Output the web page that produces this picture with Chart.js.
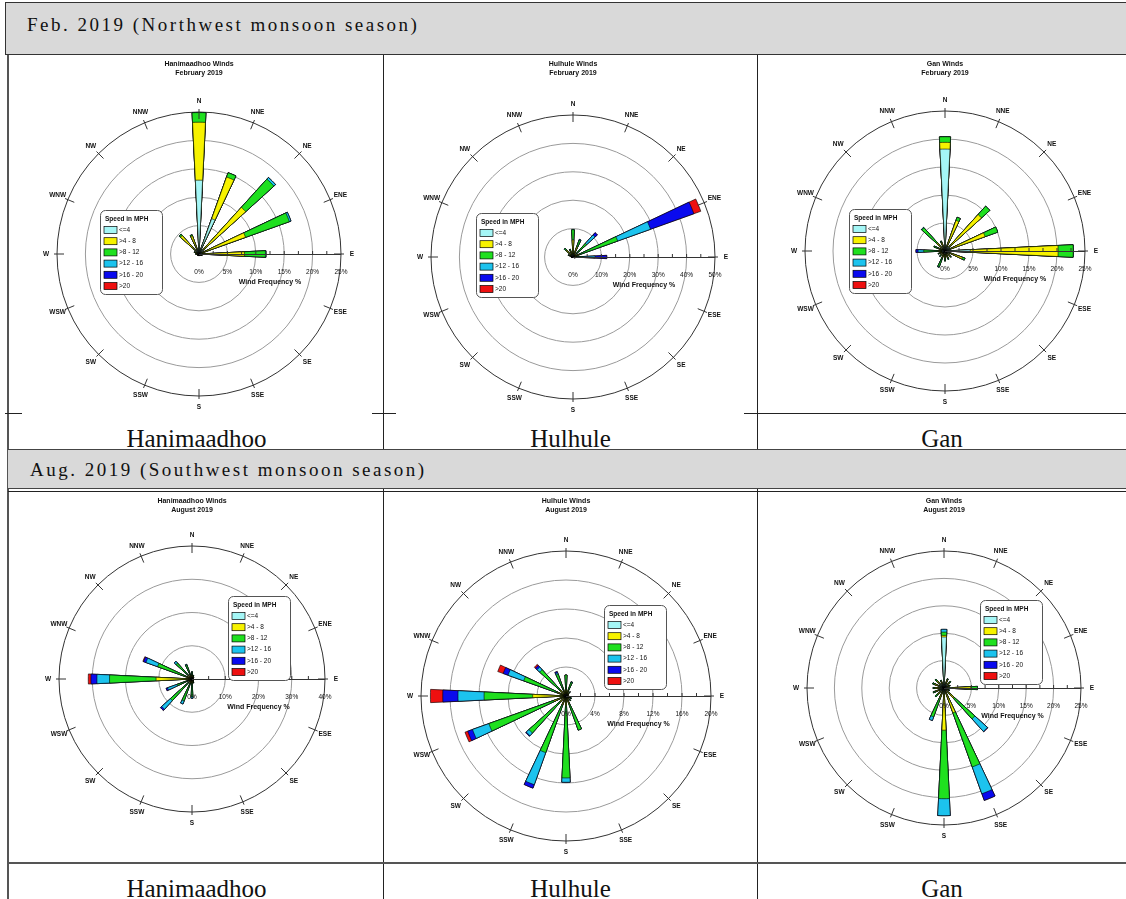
<!DOCTYPE html>
<html>
<head>
<meta charset="utf-8">
<script src="https://cdn.jsdelivr.net/npm/chart.js@4.4.0/dist/chart.umd.min.js"></script>
<style>
  body { margin: 0; width: 1126px; height: 899px; position: relative; overflow: hidden; background: #fff;
         font-family: "Liberation Serif", "Times New Roman", serif; color: #111; }
  .hdr { position: absolute; background: #d9d9d9; border: 1px solid #333; box-sizing: border-box; z-index: 3; }
  .hdrText { position: absolute; font-size: 19px; line-height: 20px; letter-spacing: 2.5px; white-space: nowrap; z-index: 4; }
  .cap { position: absolute; text-align: center; font-size: 25px; line-height: 28px; white-space: nowrap; z-index: 1; }
  .ln { position: absolute; background: #222; z-index: 2; }
  .box { position: absolute; z-index: 0; }
</style>
</head>
<body>

<div class="hdr" style="left:5px; top:2px; width:1140px; height:53px;"></div>
<div class="hdrText" style="left:27px; top:15px;">Feb. 2019 (Northwest monsoon season)</div>

<div class="hdr" style="left:8px; top:449px; width:1140px; height:40px; border-left:none; border-color:#444;"></div>
<div class="ln" style="left:8px; top:491px; width:1130px; height:1px; z-index:3;"></div>
<div class="hdrText" style="left:30px; top:460px;">Aug. 2019 (Southwest monsoon season)</div>

<!-- table lines -->
<div class="ln" style="left:7px; top:54px; width:2px; height:845px; background:#555;"></div>
<div class="ln" style="left:383px; top:54px; width:1px; height:845px;"></div>
<div class="ln" style="left:757px; top:54px; width:1px; height:845px;"></div>
<div class="ln" style="left:5px; top:54px; width:17px; height:1px;"></div>
<div class="ln" style="left:373px; top:54px; width:16px; height:1px;"></div>
<div class="ln" style="left:5px; top:413px; width:17px; height:1px;"></div>
<div class="ln" style="left:372px; top:413px; width:24px; height:1px;"></div>
<div class="ln" style="left:744px; top:413px; width:382px; height:1px;"></div>
<div class="ln" style="left:8px; top:862px; width:1118px; height:2px; background:#555;"></div>

<div class="box" style="left:10px; top:55px;"><canvas id="c1" width="372" height="357"></canvas></div>
<div class="box" style="left:384px; top:55px;"><canvas id="c2" width="372" height="357"></canvas></div>
<div class="box" style="left:758px; top:55px;"><canvas id="c3" width="368" height="357"></canvas></div>
<div class="box" style="left:10px; top:492px;"><canvas id="c4" width="372" height="369"></canvas></div>
<div class="box" style="left:384px; top:492px;"><canvas id="c5" width="372" height="369"></canvas></div>
<div class="box" style="left:758px; top:492px;"><canvas id="c6" width="368" height="369"></canvas></div>

<div class="cap" style="left:10px; width:373px; top:425px;">Hanimaadhoo</div>
<div class="cap" style="left:384px; width:373px; top:425px;">Hulhule</div>
<div class="cap" style="left:758px; width:368px; top:425px;">Gan</div>
<div class="cap" style="left:10px; width:373px; top:875px;">Hanimaadhoo</div>
<div class="cap" style="left:384px; width:373px; top:875px;">Hulhule</div>
<div class="cap" style="left:758px; width:368px; top:875px;">Gan</div>

<script>
// wind directions, clockwise from north
const dirNames = ['N', 'NNE', 'NE', 'ENE', 'E', 'ESE', 'SE', 'SSE', 'S', 'SSW', 'SW', 'WSW', 'W', 'WNW', 'NW', 'NNW'];
const speedLabels = ['<=4', '>4 - 8', '>8 - 12', '>12 - 16', '>16 - 20', '>20'];
const speedColors = ['#a4f6f6', '#f7f200', '#1fe01f', '#1cc3ee', '#0a0aee', '#ee1010'];

// frequency % per speed class (rows) and direction (columns)
const hanimaadhooFeb = [
    [13.0, 6.6, 1.0, 0.5, 0.5, 0.3, 0.2, 0.2, 0.2, 0.2, 0.2, 0.2, 0.3, 0.4, 0.8, 0.8],
    [10.2, 7.8, 10.1, 8.2, 7.5, 0.2, 0.1, 0.1, 0.1, 0.1, 0.1, 0.1, 0.2, 0.4, 3.6, 2.6],
    [1.7, 0.8, 6.7, 8.2, 3.7, 0.1, 0, 0, 0, 0, 0, 0, 0.1, 0.1, 0.3, 0.2],
    [0, 0, 0.4, 0.3, 0.1, 0, 0, 0, 0, 0, 0, 0, 0, 0, 0, 0],
    [0, 0, 0, 0, 0, 0, 0, 0, 0, 0, 0, 0, 0, 0, 0, 0],
    [0, 0, 0, 0, 0, 0, 0, 0, 0, 0, 0, 0, 0, 0, 0, 0]
];
const hulhuleFeb = [
    [1.0, 0.8, 0.5, 0.5, 0.3, 0.3, 0.2, 0.2, 0.2, 0.2, 0.2, 0.2, 0.3, 0.5, 0.8, 0.8],
    [5.0, 3.0, 1.0, 2.0, 0.7, 0.3, 0.1, 0.1, 0.1, 0.1, 0.1, 0.2, 0.3, 1.0, 2.5, 1.5],
    [3.6, 2.5, 5.0, 14.2, 2.5, 0.2, 0, 0, 0, 0, 0, 0, 0.1, 0.3, 0.8, 0.6],
    [0, 0.3, 4.0, 12.3, 4.3, 0, 0, 0, 0, 0, 0, 0, 0, 0, 0, 0],
    [0, 0, 1.1, 16.2, 4.1, 0, 0, 0, 0, 0, 0, 0, 0, 0, 0, 0],
    [0, 0, 0, 2.6, 0, 0, 0, 0, 0, 0, 0, 0, 0, 0, 0, 0]
];
const ganFeb = [
    [18.2, 0.8, 1.0, 1.0, 4.5, 0.8, 0.5, 0.5, 0.5, 0.5, 0.5, 0.5, 0.5, 0.5, 0.5, 0.8],
    [1.2, 5.0, 7.8, 6.6, 15.7, 2.5, 0.8, 0.8, 0.8, 0.8, 0.5, 0.5, 0.8, 0.8, 1.5, 0.8],
    [1.0, 0.6, 2.0, 2.4, 2.7, 0.5, 0.2, 0.3, 0.5, 1.7, 0.3, 0.3, 2.5, 0.8, 3.6, 0.3],
    [0, 0, 0, 0, 0, 0, 0, 0, 0, 0.1, 0, 0, 1.0, 0, 0.1, 0],
    [0, 0, 0, 0, 0, 0, 0, 0, 0, 0, 0, 0, 0.4, 0, 0, 0],
    [0, 0, 0, 0, 0, 0, 0, 0, 0, 0, 0, 0, 0, 0, 0, 0]
];
const hanimaadhooAug = [
    [0.3, 0.3, 0.3, 0.2, 0.2, 0.2, 0.2, 0.3, 0.3, 0.3, 0.3, 0.3, 0.5, 0.3, 0.3, 0.3],
    [0.8, 0.5, 0.3, 0.2, 0.2, 0.2, 0.3, 0.5, 1.0, 1.0, 1.0, 1.0, 10.3, 1.5, 1.2, 1.0],
    [1.1, 0.4, 0.2, 0, 0, 0, 0.1, 0.5, 4.0, 5.7, 7.5, 3.5, 14.0, 9.2, 5.0, 3.2],
    [0, 0, 0, 0, 0, 0, 0, 0, 0.5, 1.0, 3.5, 3.0, 3.8, 3.7, 0.7, 0.2],
    [0, 0, 0, 0, 0, 0, 0, 0, 0, 0, 0.5, 0.5, 1.8, 0.8, 0, 0],
    [0, 0, 0, 0, 0, 0, 0, 0, 0, 0, 0, 0, 0.8, 0.2, 0, 0]
];
const hulhuleAug = [
    [0.3, 0.3, 0.3, 0.2, 0.2, 0.3, 0.3, 0.3, 0.3, 0.3, 0.3, 0.3, 0.3, 0.3, 0.3, 0.3],
    [0.6, 0.5, 0.3, 0.2, 0.2, 0.3, 0.3, 0.8, 1.0, 1.0, 0.8, 1.5, 4.3, 1.0, 0.8, 0.5],
    [2.0, 1.2, 0.2, 0, 0, 0.2, 0.3, 3.9, 10.0, 7.0, 5.8, 9.5, 6.7, 4.9, 3.8, 2.4],
    [0, 0.1, 0, 0, 0, 0, 0, 0, 0.6, 4.7, 0.5, 2.4, 3.6, 2.3, 0.5, 0.2],
    [0, 0, 0, 0, 0, 0, 0, 0, 0, 0.5, 0.1, 0.7, 2.1, 0.7, 0.3, 0.2],
    [0, 0, 0, 0, 0, 0, 0, 0, 0, 0, 0, 0.4, 1.7, 0.8, 0.2, 0]
];
const ganAug = [
    [9.3, 0.8, 0.8, 0.5, 1.5, 0.5, 0.5, 0.6, 1.0, 0.5, 0.8, 0.8, 0.8, 1.0, 1.0, 0.8],
    [0.3, 0.8, 0.6, 0.5, 3.4, 0.3, 2.0, 4.2, 6.7, 1.5, 0.8, 0.8, 0.8, 0.8, 0.8, 0.5],
    [0.6, 0.2, 0.3, 0.2, 1.2, 0.3, 5.1, 10.5, 12.5, 3.6, 0.6, 0.5, 0.4, 0.4, 0.4, 0.2],
    [0.5, 0, 0, 0, 0, 0, 3.1, 5.2, 3.1, 0.7, 0, 0, 0, 0, 0, 0],
    [0, 0, 0, 0, 0, 0, 0.1, 1.3, 0, 0, 0, 0, 0, 0, 0, 0],
    [0, 0, 0, 0, 0, 0, 0, 0, 0, 0, 0, 0, 0, 0, 0, 0]
];

// each direction gets 4 angular slots, only the first is filled -> narrow petals
const SLOTS = 4;

function buildDatasets(classes) {
    let run = dirNames.map(() => 0);
    return classes.map((vals, k) => {
        run = run.map((v, i) => v + vals[i]);
        const data = [];
        run.forEach(v => {
            data.push(+v.toFixed(2));
            for (let s = 1; s < SLOTS; s++) data.push(0);
        });
        return {
            label: speedLabels[k],
            data: data,
            backgroundColor: speedColors[k],
            borderColor: '#000',
            borderWidth: ctx => (ctx.raw > 0 ? 0.6 : 0)
        };
    });
}

const roseDecor = {
    id: 'roseDecor',
    afterDraw(chart, args, opts) {
        const s = chart.scales.r;
        const ctx = chart.ctx;
        const cx = s.xCenter, cy = s.yCenter, R = s.drawingArea;
        ctx.save();
        ctx.strokeStyle = '#333';
        ctx.lineWidth = 1;
        ctx.fillStyle = '#111';
        ctx.textAlign = 'center';
        ctx.textBaseline = 'middle';
        ctx.font = 'bold 6.5px "Liberation Sans", Arial';
        dirNames.forEach((d, i) => {
            const a = i * Math.PI / 8;
            const sx = Math.sin(a), sy = -Math.cos(a);
            ctx.beginPath();
            ctx.moveTo(cx + sx * (R - 7), cy + sy * (R - 7));
            ctx.lineTo(cx + sx * (R + 3), cy + sy * (R + 3));
            ctx.stroke();
            ctx.fillText(d, cx + sx * (R + 11), cy + sy * (R + 11));
        });

        // frequency axis along E
        ctx.beginPath();
        ctx.moveTo(cx, cy + 0.5);
        ctx.lineTo(cx + R, cy + 0.5);
        ctx.stroke();
        const step = opts.step;
        for (let v = step / 2; v < s.max; v += step / 2) {
            const x = cx + s.getDistanceFromCenterForValue(v);
            ctx.beginPath();
            ctx.moveTo(x, cy);
            ctx.lineTo(x, cy - 3);
            ctx.stroke();
        }
        ctx.font = '6.5px "Liberation Sans", Arial';
        s.ticks.forEach(t => {
            const x = cx + s.getDistanceFromCenterForValue(t.value);
            ctx.fillText(t.value + '%', x, cy + 18);
        });
        ctx.font = 'bold 7px "Liberation Sans", Arial';
        ctx.fillText('Wind Frequency %', cx + s.getDistanceFromCenterForValue(s.max / 2), cy + 28);

        // speed legend
        const lx = cx + opts.legendDx, ly = cy + opts.legendDy;
        const lw = 62, lh = 84;
        ctx.beginPath();
        ctx.roundRect(lx + 0.5, ly + 0.5, lw, lh, 5);
        ctx.fillStyle = '#fff';
        ctx.fill();
        ctx.strokeStyle = '#555';
        ctx.stroke();
        ctx.textAlign = 'left';
        ctx.fillStyle = '#111';
        ctx.font = 'bold 6.5px "Liberation Sans", Arial';
        ctx.fillText('Speed in MPH', lx + 5, ly + 9);
        ctx.font = '6.5px "Liberation Sans", Arial';
        chart.data.datasets.forEach((ds, k) => {
            const y = ly + 20 + k * 11.2;
            ctx.fillStyle = ds.backgroundColor;
            ctx.fillRect(lx + 4, y - 3.5, 13, 7);
            ctx.strokeStyle = '#000';
            ctx.lineWidth = 0.7;
            ctx.strokeRect(lx + 4, y - 3.5, 13, 7);
            ctx.fillStyle = '#111';
            ctx.fillText(ds.label, lx + 19, y);
        });
        ctx.restore();
    }
};

const roses = [
    { id: 'c1', station: 'Hanimaadhoo', month: 'February', classes: hanimaadhooFeb, max: 25, step: 5, cx: 189, cy: 199, r: 142, ldx: -99, ldy: -44 },
    { id: 'c2', station: 'Hulhule', month: 'February', classes: hulhuleFeb, max: 50, step: 10, cx: 189, cy: 202, r: 142, ldx: -97, ldy: -44 },
    { id: 'c3', station: 'Gan', month: 'February', classes: ganFeb, max: 25, step: 5, cx: 187, cy: 196, r: 140, ldx: -96, ldy: -42 },
    { id: 'c4', station: 'Hanimaadhoo', month: 'August', classes: hanimaadhooAug, max: 40, step: 10, cx: 182, cy: 187, r: 133, ldx: 36, ldy: -83 },
    { id: 'c5', station: 'Hulhule', month: 'August', classes: hulhuleAug, max: 20, step: 4, cx: 182, cy: 204, r: 145, ldx: 38, ldy: -91 },
    { id: 'c6', station: 'Gan', month: 'August', classes: ganAug, max: 25, step: 5, cx: 186, cy: 196, r: 137, ldx: 36, ldy: -88 }
];

roses.forEach(cfg => {
    const canvas = document.getElementById(cfg.id);
    const W = canvas.width, H = canvas.height;
    const titleSize = 7, titleLH = 1.25, titleTop = 5;
    const titleBlock = 2 * titleSize * titleLH;
    new Chart(canvas, {
        type: 'polarArea',
        data: {
            labels: dirNames.flatMap(d => [d, '', '', '']),
            datasets: buildDatasets(cfg.classes)
        },
        options: {
            responsive: false,
            devicePixelRatio: 1,
            animation: false,
            layout: {
                padding: { left: cfg.cx - cfg.r, right: W - cfg.cx - cfg.r, top: 0, bottom: H - cfg.cy - cfg.r }
            },
            scales: {
                r: {
                    min: 0,
                    max: cfg.max,
                    startAngle: -180 / (dirNames.length * SLOTS),
                    ticks: { display: false, stepSize: cfg.step },
                    grid: {
                        circular: true,
                        color: ctx => (ctx.tick && ctx.tick.value >= cfg.max ? '#333' : '#9a9a9a'),
                        lineWidth: 1
                    },
                    angleLines: { display: false },
                    pointLabels: { display: false }
                }
            },
            plugins: {
                legend: { display: false },
                tooltip: { enabled: false },
                title: {
                    display: true,
                    text: [cfg.station + ' Winds', cfg.month + ' 2019'],
                    color: '#111',
                    font: { family: '"Liberation Sans", Arial', size: titleSize, weight: 'bold', lineHeight: titleLH },
                    padding: { top: titleTop, bottom: cfg.cy - cfg.r - titleTop - titleBlock }
                },
                roseDecor: { step: cfg.step, legendDx: cfg.ldx, legendDy: cfg.ldy }
            }
        },
        plugins: [roseDecor]
    });
});
</script>
</body>
</html>
